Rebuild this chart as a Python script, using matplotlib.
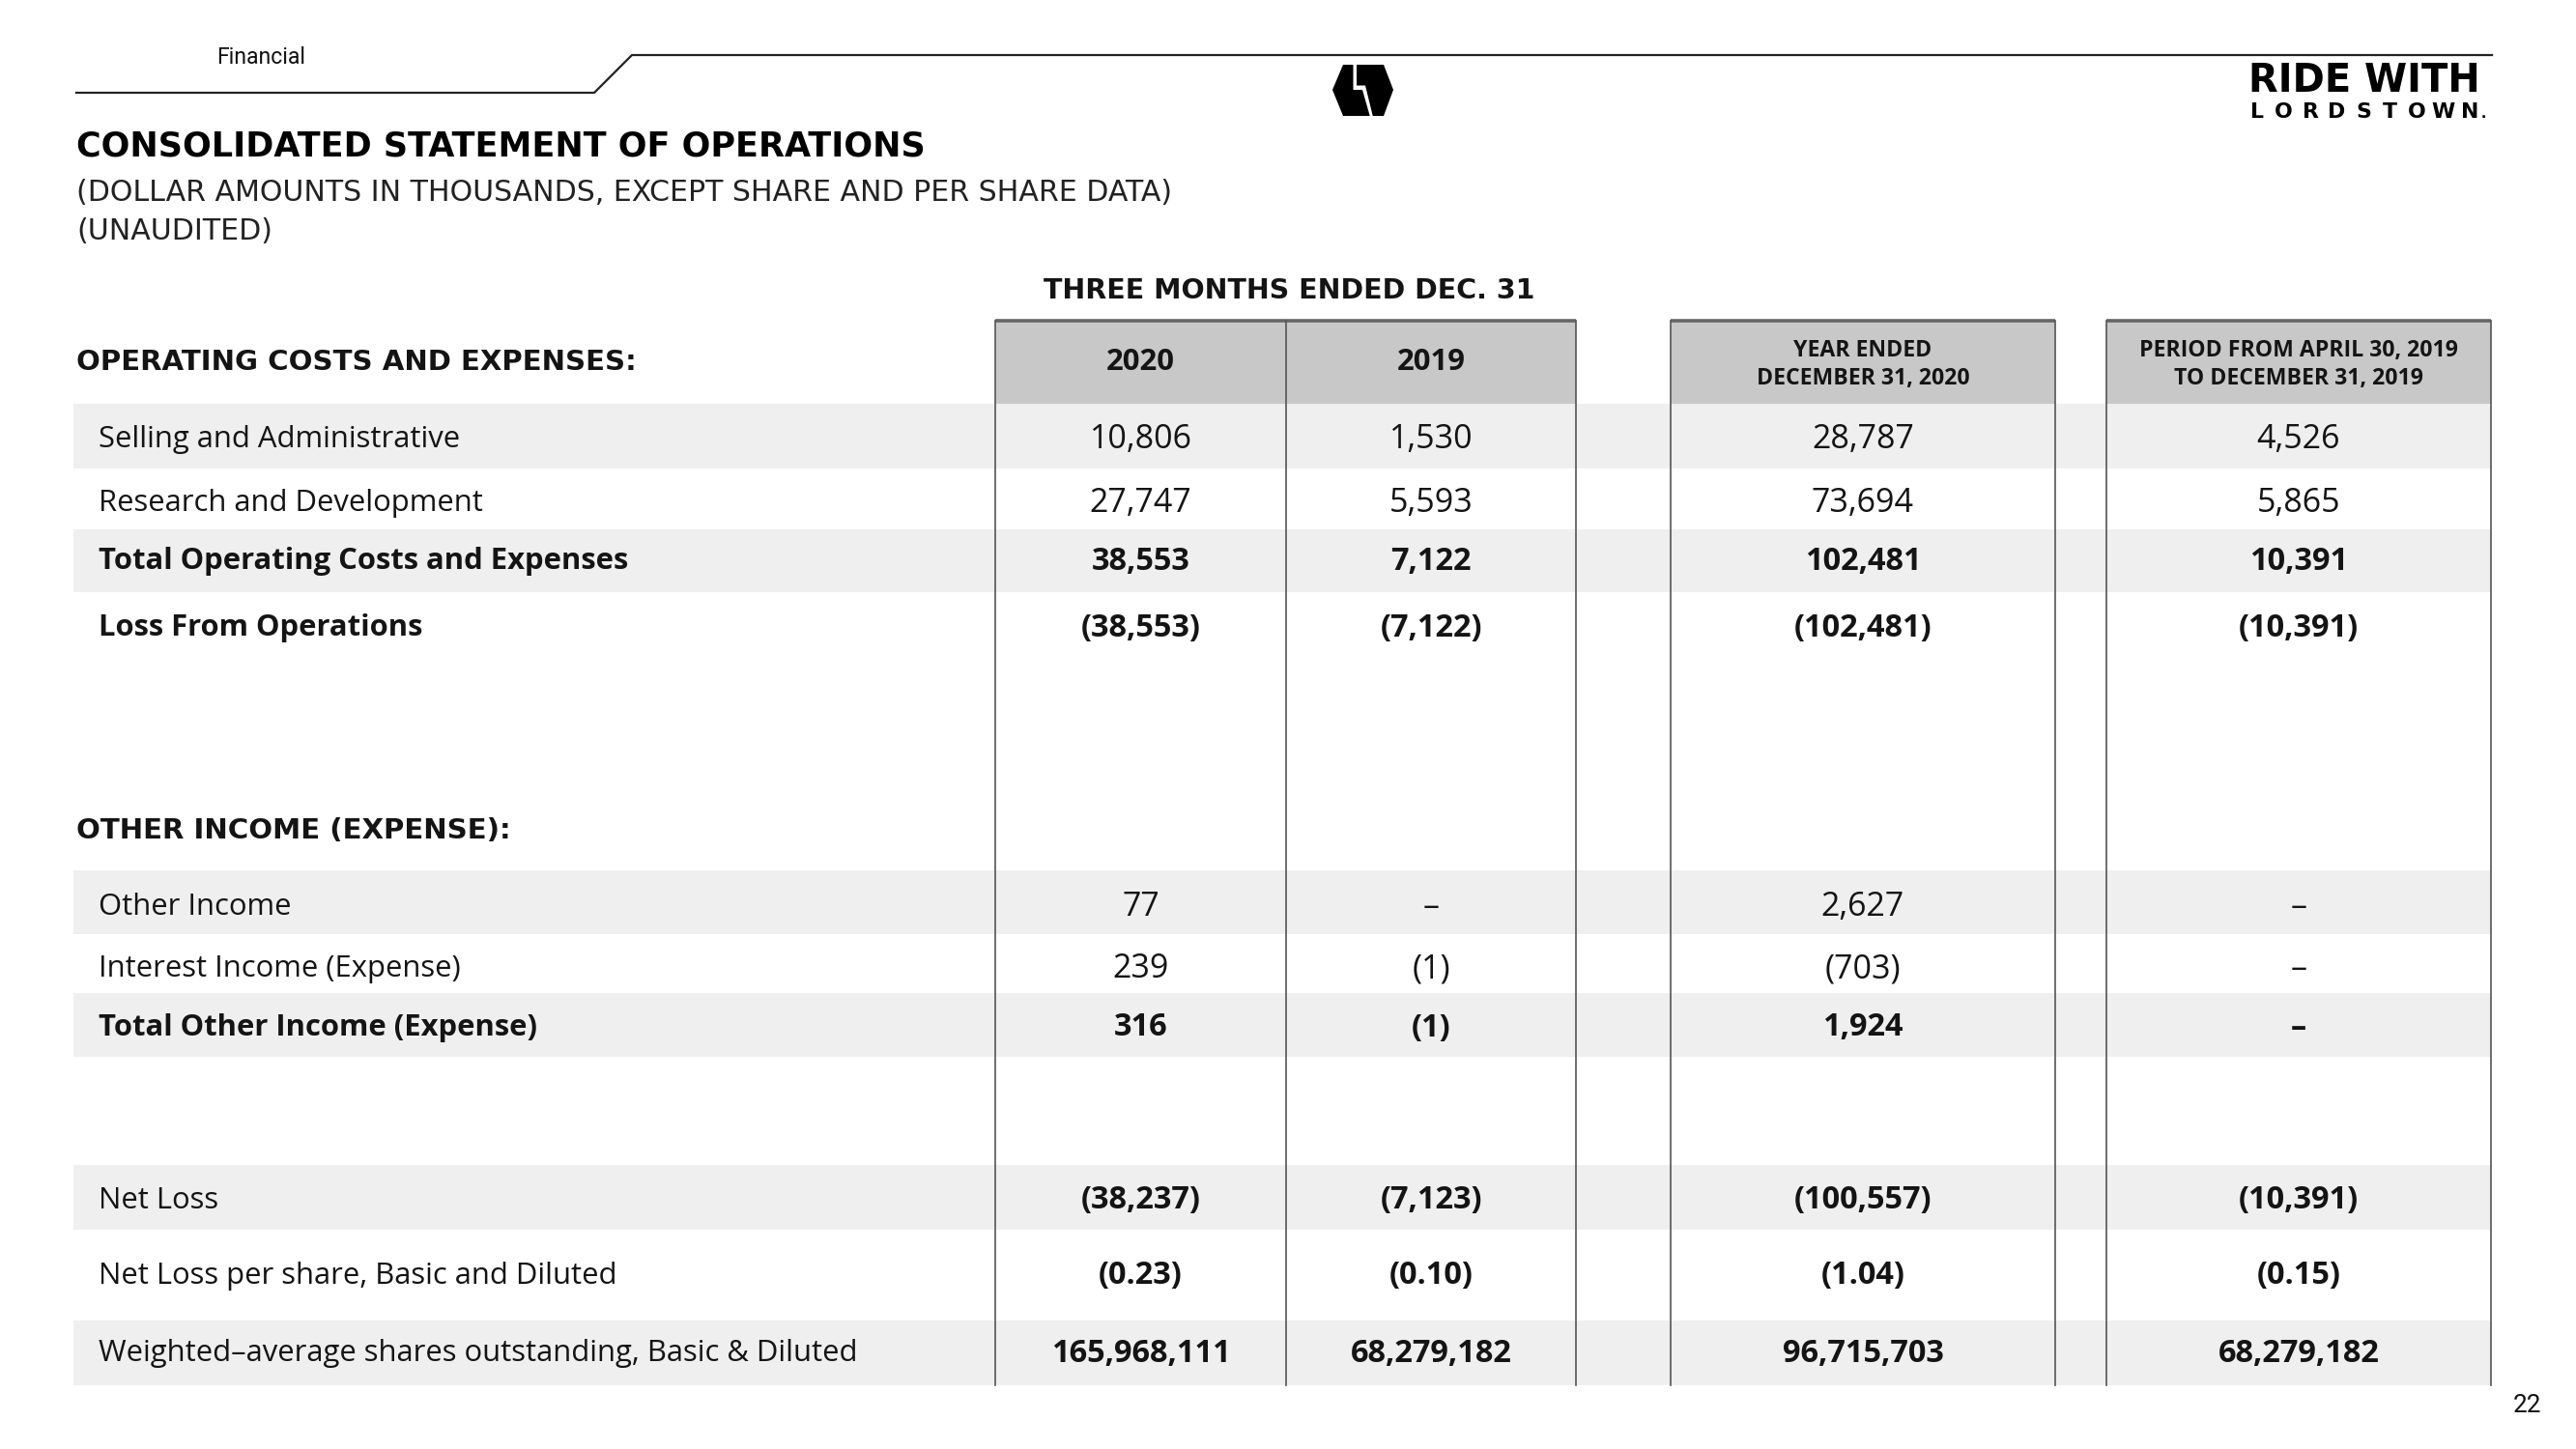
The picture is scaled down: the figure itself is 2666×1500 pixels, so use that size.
import matplotlib
matplotlib.use("Agg")
import matplotlib.pyplot as plt
from matplotlib.patches import Rectangle, Polygon
from matplotlib import font_manager

# ---------------- data ----------------
row_labels = [
    "Selling and Administrative",
    "Research and Development",
    "Total Operating Costs and Expenses",
    "Loss From Operations",
    "Other Income",
    "Interest Income (Expense)",
    "Total Other Income (Expense)",
    "Net Loss",
    "Net Loss per share, Basic and Diluted",
    "Weighted\u2013average shares outstanding, Basic & Diluted",
]
q4_2020 = [10806, 27747, 38553, -38553, 77, 239, 316, -38237, -0.23, 165968111]
q4_2019 = [1530, 5593, 7122, -7122, None, -1, -1, -7123, -0.10, 68279182]
fy_2020 = [28787, 73694, 102481, -102481, 2627, -703, 1924, -100557, -1.04, 96715703]
period_2019 = [4526, 5865, 10391, -10391, None, None, None, -10391, -0.15, 68279182]
column_headers = ["2020", "2019", "YEAR ENDED\nDECEMBER 31, 2020",
                  "PERIOD FROM APRIL 30, 2019\nTO DECEMBER 31, 2019"]
section_headers = ["OPERATING COSTS AND EXPENSES:", "OTHER INCOME (EXPENSE):"]
group_header = "THREE MONTHS ENDED DEC. 31"
title = "CONSOLIDATED STATEMENT OF OPERATIONS"
subtitle = ["(DOLLAR AMOUNTS IN THOUSANDS, EXCEPT SHARE AND PER SHARE DATA)", "(UNAUDITED)"]
page_label = "Financial"
page_number = "22"
logo_top = "RIDE WITH"
logo_bottom = "LORDSTOWN"

# ---------------- style ----------------
avail = {f.name for f in font_manager.fontManager.ttflist}
def pick(*names):
    for n in names:
        if n in avail:
            return n
    return "DejaVu Sans"
BODY = pick("Open Sans", "Lato", "DejaVu Sans")
NUM = pick("Open Sans", "DejaVu Sans")
WIDE = "DejaVu Sans"
NARROW = pick("Liberation Sans Narrow", "Roboto", "DejaVu Sans")

HEAD_GRAY = "#c8c8c8"
BAND_GRAY = "#efefef"
LINE = "#555555"
TXT = "#141414"

W, H = 2666, 1500
fig = plt.figure(figsize=(W / 100, H / 100), dpi=100)
ax = fig.add_axes([0, 0, 1, 1])
ax.set_xlim(0, W)
ax.set_ylim(H, 0)
ax.axis("off")

def pt(px):
    return px * 0.72

# ---------------- top decoration ----------------
ax.plot([79, 615, 654, 2579], [96, 96, 57, 57], color="#222222", lw=1.6,
        solid_joinstyle="miter")
ax.text(224, 60, page_label, fontsize=pt(23), family=NARROW, ha="left",
        va="center", color="#111111")

# icon
hexagon = Polygon([(1390, 67), (1432, 67), (1442, 93), (1432, 120), (1390, 120),
                   (1379, 93)], closed=True, fc="black", ec="none")
ax.add_patch(hexagon)
bolt = Polygon([(1400.5, 66), (1404, 66), (1404, 88.5), (1413, 88.5), (1421, 121),
                (1418, 121), (1410, 93), (1400.5, 93)], closed=True, fc="white", ec="none")
ax.add_patch(bolt)

# logo text
ax.text(2447, 95, logo_top, fontsize=pt(40), family=WIDE, weight="bold",
        ha="center", va="baseline", color="black")
x0, x1 = 2336, 2556
for i, ch in enumerate(logo_bottom):
    xx = x0 + (x1 - x0) * i / (len(logo_bottom) - 1)
    ax.text(xx, 121.5, ch, fontsize=pt(22), family=WIDE, weight="bold",
            ha="center", va="baseline", color="black")
ax.text(2570, 121.5, ".", fontsize=pt(14), family=WIDE, weight="bold",
        ha="center", va="baseline", color="black")

# ---------------- titles ----------------
ax.text(79, 152, title, fontsize=pt(35), family=WIDE, weight="bold",
        ha="left", va="center", color="black")
ax.text(79, 200, subtitle[0], fontsize=pt(30), family=WIDE, ha="left",
        va="center", color="#222222")
ax.text(79, 240, subtitle[1], fontsize=pt(30), family=WIDE, ha="left",
        va="center", color="#222222")

# ---------------- table geometry ----------------
col_edges = [(1030, 1331), (1331, 1631), (1729, 2127), (2180, 2578)]
head_top, head_bot = 332, 418
table_bot = 1434
row_y = [455, 521, 581, 650, 939, 1003, 1064, 1243, 1321, 1401]
row_band = [(418, 485), None, (548, 613), None, (901, 967), None, (1028, 1094),
            (1206, 1273), None, (1367, 1434)]
bold_label = [False, False, True, True, False, False, True, False, False, False]
bold_value = [False, False, True, True, False, False, True, True, True, True]
band_left, band_right = 76, 2578
label_x = 102
section_y = [375, 860]

# bands
for b in row_band:
    if b is not None:
        ax.add_patch(Rectangle((band_left, b[0]), band_right - band_left, b[1] - b[0],
                               fc=BAND_GRAY, ec="none", zorder=0))

# header cells
for (l, r) in col_edges:
    ax.add_patch(Rectangle((l, head_top), r - l, head_bot - head_top,
                           fc=HEAD_GRAY, ec="none", zorder=1))
boxes = [(1030, 1631), (1729, 2127), (2180, 2578)]
for (l, r) in boxes:
    ax.plot([l, r], [head_top, head_top], color="#666666", lw=2.6, zorder=3,
            solid_capstyle="butt")
xs = sorted({e for c in col_edges for e in c})
for x in xs:
    ax.plot([x, x], [head_top, table_bot], color=LINE, lw=1.2, zorder=3)

# header texts
ax.text(1334, 301, group_header, fontsize=pt(28.5), family=WIDE, weight="bold",
        ha="center", va="center", color=TXT)
for i, (l, r) in enumerate(col_edges):
    cx = (l + r) / 2
    hdr = column_headers[i]
    if "\n" in hdr:
        a, b = hdr.split("\n")
        ax.text(cx, 363, a, fontsize=pt(23), family=NUM, weight="bold",
                ha="center", va="center", color=TXT)
        ax.text(cx, 392, b, fontsize=pt(23), family=NUM, weight="bold",
                ha="center", va="center", color=TXT)
    else:
        ax.text(cx, 375, hdr, fontsize=pt(31), family=NUM, weight="bold",
                ha="center", va="center", color=TXT)

# section headers
for s, y in zip(section_headers, section_y):
    ax.text(79, y, s, fontsize=pt(29.3), family=WIDE, weight="bold", ha="left",
            va="center", color=TXT)

def fmt(v, per_share):
    if v is None:
        return "\u2013"
    if per_share:
        s = f"{abs(v):.2f}"
    else:
        s = f"{abs(int(v)):,}"
    return f"({s})" if v < 0 else s

columns = [q4_2020, q4_2019, fy_2020, period_2019]
for i, lab in enumerate(row_labels):
    y = row_y[i]
    ax.text(label_x, y, lab, fontsize=pt(31), family=BODY,
            weight="bold" if bold_label[i] else "normal", ha="left", va="center",
            color=TXT)
    per_share = "per share" in lab
    for (l, r), col in zip(col_edges, columns):
        ax.text((l + r) / 2, y, fmt(col[i], per_share),
                fontsize=pt(32.5) if bold_value[i] else pt(34),
                family=NUM, weight="bold" if bold_value[i] else "normal",
                ha="center", va="center", color=TXT)

ax.text(2615, 1455, page_number, fontsize=pt(26), family=NARROW, ha="center",
        va="center", color="#111111")

fig.savefig("out.png", dpi=100)
